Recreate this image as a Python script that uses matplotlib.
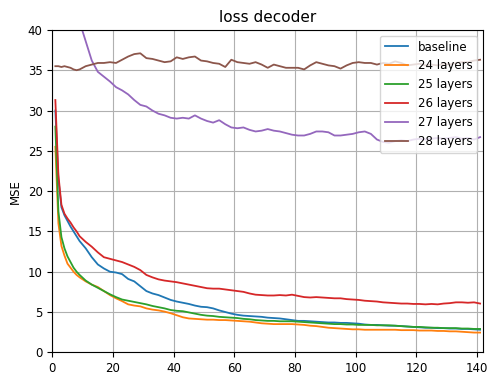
import numpy as np
import matplotlib
matplotlib.use("Agg")
import matplotlib.pyplot as plt

# epochs: every epoch at the start, then every second epoch
epochs = list(range(1, 10)) + list(range(11, 142, 2))

baseline = [30.0, 21.5, 18.0, 17.0, 16.3, 15.6, 15.0, 14.4, 13.8,
            12.9, 11.8, 10.9, 10.4, 10.0, 9.9, 9.7, 9.1, 8.8, 8.2,
            7.6, 7.3, 7.1, 6.8, 6.5, 6.3, 6.15, 6.0, 5.8, 5.65,
            5.6, 5.45, 5.2, 5.0, 4.8, 4.65, 4.55, 4.5, 4.45, 4.4,
            4.3, 4.25, 4.2, 4.1, 4.0, 3.9, 3.9, 3.85, 3.8, 3.75,
            3.7, 3.7, 3.65, 3.65, 3.6, 3.55, 3.45, 3.4, 3.4, 3.35,
            3.3, 3.3, 3.25, 3.2, 3.15, 3.1, 3.05, 3.05, 3.0, 3.0,
            2.95, 2.95, 2.9, 2.9, 2.85, 2.8]

layers24 = [25.5, 16.0, 13.2, 12.0, 11.0, 10.5, 10.0, 9.6, 9.3,
            8.8, 8.4, 8.1, 7.6, 7.1, 6.7, 6.35, 5.95, 5.8, 5.7,
            5.45, 5.3, 5.2, 5.05, 4.85, 4.6, 4.35, 4.2, 4.15, 4.1,
            4.05, 4.05, 4.0, 4.0, 3.95, 3.9, 3.85, 3.8, 3.7, 3.6,
            3.55, 3.5, 3.5, 3.5, 3.5, 3.45, 3.4, 3.3, 3.25, 3.15,
            3.05, 3.0, 2.95, 2.9, 2.85, 2.85, 2.8, 2.8, 2.8, 2.8,
            2.8, 2.8, 2.75, 2.75, 2.75, 2.7, 2.7, 2.7, 2.65, 2.65,
            2.6, 2.6, 2.55, 2.5, 2.45, 2.45]

layers25 = [28.0, 17.5, 14.3, 12.9, 11.9, 11.2, 10.5, 10.0, 9.6,
            8.9, 8.4, 8.0, 7.6, 7.2, 6.85, 6.55, 6.4, 6.25, 6.1,
            5.95, 5.75, 5.6, 5.45, 5.25, 5.15, 5.1, 4.95, 4.8, 4.65,
            4.55, 4.5, 4.4, 4.35, 4.3, 4.25, 4.15, 4.1, 4.0, 3.95,
            3.9, 3.9, 3.85, 3.85, 3.85, 3.8, 3.75, 3.7, 3.65, 3.6,
            3.55, 3.5, 3.5, 3.45, 3.45, 3.4, 3.4, 3.4, 3.35, 3.35,
            3.35, 3.3, 3.25, 3.2, 3.15, 3.15, 3.1, 3.05, 3.05, 3.0,
            3.0, 3.0, 2.95, 2.95, 2.9, 2.9]

layers26 = [31.3, 22.0, 18.3, 17.2, 16.6, 16.1, 15.5, 15.0, 14.4,
            13.7, 13.1, 12.4, 11.8, 11.6, 11.4, 11.2, 10.9, 10.6, 10.2,
            9.6, 9.3, 9.05, 8.9, 8.8, 8.7, 8.55, 8.4, 8.25, 8.1,
            7.95, 7.9, 7.9, 7.8, 7.7, 7.6, 7.5, 7.3, 7.15, 7.1,
            7.05, 7.05, 7.1, 7.05, 7.15, 7.0, 6.85, 6.8, 6.85, 6.8,
            6.75, 6.7, 6.7, 6.6, 6.55, 6.5, 6.4, 6.35, 6.3, 6.2,
            6.15, 6.1, 6.05, 6.05, 6.0, 6.0, 5.95, 6.0, 5.95, 6.05,
            6.1, 6.2, 6.2, 6.15, 6.2, 6.05]

layers27 = [75.0, 62.0, 55.0, 50.5, 47.5, 45.5, 43.8, 42.3, 41.0,
            38.6, 36.2, 34.8, 34.2, 33.6, 32.9, 32.5, 32.0, 31.3, 30.7,
            30.5, 30.0, 29.6, 29.4, 29.1, 29.0, 29.1, 29.0, 29.4, 29.0,
            28.7, 28.5, 28.8, 28.3, 27.9, 27.8, 27.9, 27.6, 27.4, 27.5,
            27.7, 27.5, 27.4, 27.2, 27.0, 26.9, 26.9, 27.1, 27.4, 27.4,
            27.3, 26.9, 26.9, 27.0, 27.1, 27.3, 27.4, 27.1, 26.4, 26.1,
            26.0, 26.2, 26.3, 26.2, 26.4, 26.5, 26.4, 26.5, 26.6, 26.5,
            26.6, 26.7, 26.5, 26.6, 26.4, 26.7]

layers28 = [35.5, 35.5, 35.4, 35.5, 35.4, 35.3, 35.1, 35.0, 35.1,
            35.5, 35.7, 35.9, 35.9, 36.0, 35.9, 36.3, 36.7, 37.0, 37.1,
            36.5, 36.4, 36.2, 36.0, 36.1, 36.6, 36.4, 36.6, 36.7, 36.2,
            36.1, 35.9, 35.8, 35.4, 36.3, 36.0, 35.9, 35.8, 36.0, 35.7,
            35.3, 35.7, 35.5, 35.3, 35.3, 35.3, 35.1, 35.6, 36.0, 35.8,
            35.6, 35.5, 35.2, 35.6, 35.9, 36.0, 35.9, 35.9, 35.7, 35.9,
            35.8, 36.1, 35.9, 35.6, 35.7, 35.8, 35.6, 35.7, 35.6, 35.8,
            35.7, 35.9, 36.0, 36.0, 36.2, 36.3]

plt.rcParams['font.size'] = 8.5

fig, ax = plt.subplots(figsize=(4.89, 3.74), dpi=100)
fig.subplots_adjust(left=0.107, right=0.988, top=0.92, bottom=0.058)

lw = 1.3
ax.plot(epochs, baseline, lw=lw, label='baseline')
ax.plot(epochs, layers24, lw=lw, label='24 layers')
ax.plot(epochs, layers25, lw=lw, label='25 layers')
ax.plot(epochs, layers26, lw=lw, label='26 layers')
ax.plot(epochs, layers27, lw=lw, label='27 layers')
ax.plot(epochs, layers28, lw=lw, label='28 layers')

ax.set_xlim(0, 142)
ax.set_ylim(0, 40)
ax.set_ylabel('MSE')
ax.set_title('loss decoder', fontsize=11)
ax.grid(True)
ax.legend(loc='upper right')

fig.savefig('out.png')
